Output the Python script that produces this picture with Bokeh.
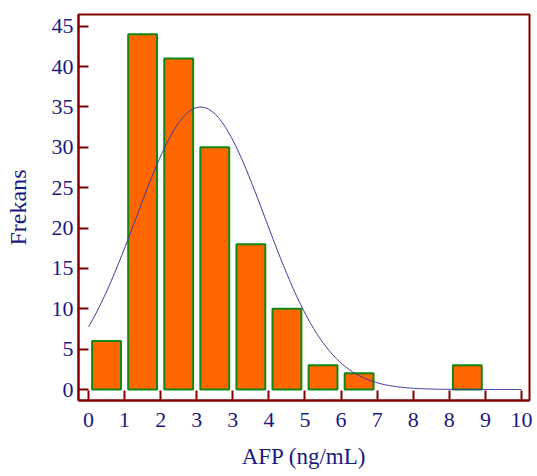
import math
from bokeh.plotting import figure
from bokeh.models import Range1d, FixedTicker, ColumnDataSource
from bokeh.embed import file_html
from bokeh.resources import INLINE

# ---- data ----
bin_width = 0.8436
counts = [6, 44, 41, 30, 18, 10, 3, 2, 0, 0, 3, 0]
x_tick_labels = ["0", "1", "2", "3", "3", "4", "5", "6", "7", "8", "8", "9", "10"]
y_ticks = [0, 5, 10, 15, 20, 25, 30, 35, 40, 45]
fit_mean = 2.62
fit_sd = 1.51

NAVY = "#1a1a80"
DARKRED = "#800000"
FONT = "Liberation Serif"

n_total = sum(counts)
edges = [i * bin_width for i in range(len(counts) + 1)]
centers = [(edges[i] + edges[i + 1]) / 2 for i in range(len(counts))]
bars = ColumnDataSource(dict(
    x=[c for c, n in zip(centers, counts) if n > 0],
    top=[n for n in counts if n > 0],
))

# fitted normal curve scaled to frequencies
steps = 300
cx = [edges[0] + (edges[-1] - edges[0]) * k / steps for k in range(steps + 1)]
scale = n_total * bin_width
cy = [scale / (fit_sd * math.sqrt(2 * math.pi)) * math.exp(-((v - fit_mean) ** 2) / (2 * fit_sd ** 2)) for v in cx]

p = figure(width=537, height=476, output_backend="svg", toolbar_location=None,
           x_range=Range1d(-0.2337, 10.311), y_range=Range1d(-1.36, 46.45),
           min_border_left=78, min_border_right=8, min_border_top=14, min_border_bottom=76)

p.vbar(x="x", top="top", width=bin_width * 0.8, bottom=0, source=bars,
       fill_color="#ff6600", line_color="#118811", line_width=2)
p.line(cx, cy, line_color="#3a3aa0", line_width=1)

p.xgrid.visible = False
p.ygrid.visible = False
p.outline_line_color = DARKRED
p.outline_line_width = 2
p.outline_line_alpha = 1
p.background_fill_color = "white"
p.border_fill_color = "white"

p.xaxis.ticker = FixedTicker(ticks=edges)
p.xaxis.major_label_overrides = {e: lab for e, lab in zip(edges, x_tick_labels)}
p.yaxis.ticker = FixedTicker(ticks=y_ticks)

for ax in (p.xaxis[0], p.yaxis[0]):
    ax.axis_line_color = DARKRED
    ax.axis_line_width = 2
    ax.major_tick_line_color = DARKRED
    ax.major_tick_line_width = 2
    ax.major_tick_in = 10
    ax.major_tick_out = 0
    ax.minor_tick_line_color = None
    ax.major_label_text_font = FONT
    ax.major_label_text_font_size = "22px"
    ax.major_label_text_color = NAVY
    ax.axis_label_text_font = FONT
    ax.axis_label_text_font_style = "normal"
    ax.axis_label_text_color = NAVY

p.xaxis.axis_label = "AFP (ng/mL)"
p.yaxis.axis_label = "Frekans"
p.xaxis.axis_label_text_font_size = "23px"
p.yaxis.axis_label_text_font_size = "24px"
p.xaxis.major_label_standoff = 12
p.yaxis.major_label_standoff = 5
p.xaxis.axis_label_standoff = 14
p.yaxis.axis_label_standoff = 18

open("out.html", "w").write(file_html(p, INLINE))
